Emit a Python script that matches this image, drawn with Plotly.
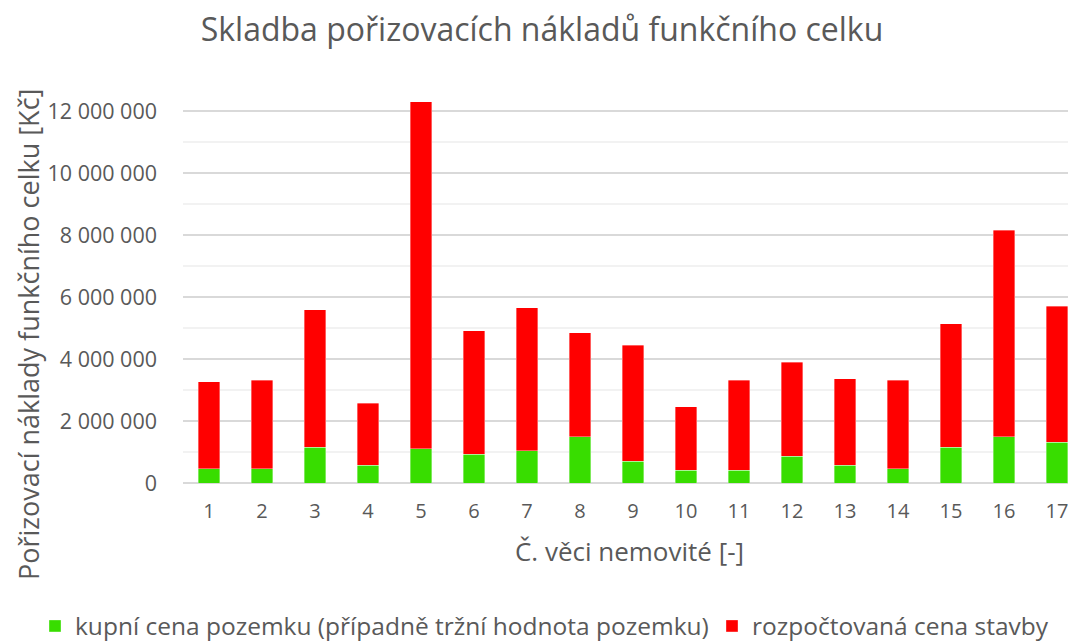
import plotly.graph_objects as go

# --- Daten ---
cislo_veci = list(range(1, 18))
pozemek = [460000, 460000, 1160000, 580000, 1100000, 920000, 1040000, 1490000, 700000,
           410000, 410000, 860000, 580000, 460000, 1160000, 1490000, 1320000]
celkem = [3260000, 3320000, 5590000, 2580000, 12300000, 4910000, 5650000, 4850000, 4450000,
          2460000, 3320000, 3890000, 3370000, 3320000, 5140000, 8150000, 5700000]
stavba = [c - p for c, p in zip(celkem, pozemek)]

nazev_pozemek = "kupní cena pozemku (případně tržní hodnota pozemku)"
nazev_stavba = "rozpočtovaná cena stavby"

SEDA = "#595959"
FONT = "Open Sans"
# Seite hat 8px Rand im Browser -> Figur etwas kleiner
W, H = 1068, 633
L, T, B = 175, 72, 158
plot_w, plot_h = W - L, H - T - B

fig = go.Figure()
fig.add_trace(go.Bar(
    x=cislo_veci, y=pozemek, name=nazev_pozemek, legend="legend",
    marker=dict(color="#38dd00", line=dict(color="rgba(255,255,255,0.6)", width=0.6)),
    width=0.4,
))
fig.add_trace(go.Bar(
    x=cislo_veci, y=stavba, name=nazev_stavba, legend="legend2",
    marker=dict(color="#ff0000", line=dict(color="rgba(255,255,255,0.6)", width=0.6)),
    width=0.4,
))

leg_y = (H - 618) / H

# Y-Achsentitel als Annotation (im Original nicht mittig zur Zeichenfläche)
fig.add_annotation(
    text="Pořizovací náklady funkčního celku [Kč]",
    textangle=-90,
    xref="paper", yref="paper",
    x=(20 - L) / plot_w, y=(H - B - 327) / plot_h,
    xanchor="center", yanchor="middle",
    showarrow=False,
    font=dict(size=27, color=SEDA, family=FONT),
)

fig.update_layout(
    barmode="stack",
    width=W,
    height=H,
    showlegend=True,
    margin=dict(l=L, r=0, t=T, b=B, autoexpand=False),
    paper_bgcolor="white",
    plot_bgcolor="white",
    separators=", ",
    font=dict(family=FONT, color=SEDA, size=20),
    title=dict(
        text="Skladba pořizovacích nákladů funkčního celku",
        x=534 / W, xanchor="center", xref="container",
        y=1 - 22 / H, yanchor="middle", yref="container",
        font=dict(size=32, color=SEDA, family=FONT),
    ),
    xaxis=dict(
        tickmode="array",
        tickvals=cislo_veci,
        ticktext=[str(c) for c in cislo_veci],
        range=[0.51, 17.36],
        showgrid=False,
        zeroline=False,
        showline=False,
        ticks="",
        automargin=False,
        ticklabelstandoff=14,
        tickfont=dict(size=20, color=SEDA),
        title=dict(text="Č. věci nemovité [-]", font=dict(size=26, color=SEDA), standoff=19),
    ),
    yaxis=dict(
        range=[0, 13000000],
        tickmode="linear",
        tick0=0,
        dtick=2000000,
        tickformat=",d",
        gridcolor="#d9d9d9",
        gridwidth=1.5,
        zeroline=True,
        zerolinecolor="#d9d9d9",
        zerolinewidth=1.5,
        showline=False,
        ticks="",
        automargin=False,
        ticklabelstandoff=25,
        tickfont=dict(size=21.5, color=SEDA),
        minor=dict(dtick=1000000, tick0=0, showgrid=True, gridcolor="#f2f2f2", gridwidth=1.5),
    ),
    legend=dict(
        orientation="h",
        x=27 / W, xanchor="left", xref="container",
        y=leg_y, yanchor="middle", yref="container",
        bgcolor="rgba(0,0,0,0)",
        font=dict(size=24.5, color=SEDA),
    ),
    legend2=dict(
        orientation="h",
        x=704 / W, xanchor="left", xref="container",
        y=leg_y, yanchor="middle", yref="container",
        bgcolor="rgba(0,0,0,0)",
        font=dict(size=24.5, color=SEDA),
    ),
    bargap=0.6,
)

fig.write_html("out.html")
